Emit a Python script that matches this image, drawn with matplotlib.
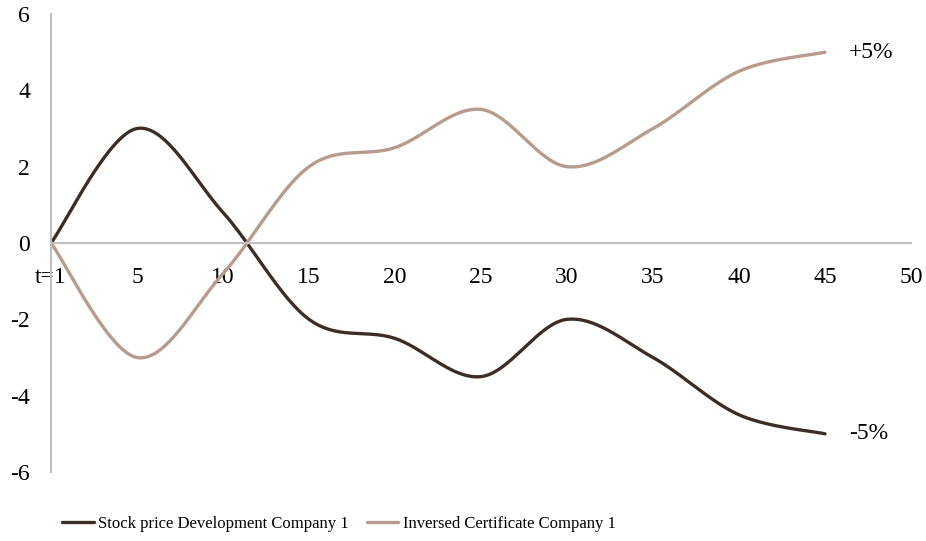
import numpy as np
import matplotlib
matplotlib.use("Agg")
import matplotlib.pyplot as plt

# Time points and percentage development of the two instruments
t = [0, 5, 10, 15, 20, 25, 30, 35, 40, 45]
stock = [0, 3, 0.8, -2, -2.5, -3.5, -2, -3, -4.5, -5]
certificate = [-v for v in stock]

x_ticks = [0, 5, 10, 15, 20, 25, 30, 35, 40, 45, 50]
x_labels = ["t=1", "5", "10", "15", "20", "25", "30", "35", "40", "45", "50"]
y_ticks = [-6, -4, -2, 0, 2, 4, 6]

dark = "#3d2e25"
light = "#b89b8c"


def smooth(xs, ys, n=40):
    # Catmull-Rom style curve through every point (like a spreadsheet "smoothed line")
    xs = np.asarray(xs, float)
    ys = np.asarray(ys, float)
    px = np.concatenate([[xs[0]], xs, [xs[-1]]])
    py = np.concatenate([[ys[0]], ys, [ys[-1]]])
    out_x, out_y = [], []
    s = np.linspace(0, 1, n)
    for i in range(1, len(px) - 2):
        p0 = np.array([px[i], py[i]])
        p3 = np.array([px[i + 1], py[i + 1]])
        p1 = p0 + (np.array([px[i + 1], py[i + 1]]) - np.array([px[i - 1], py[i - 1]])) / 6
        p2 = p3 - (np.array([px[i + 2], py[i + 2]]) - np.array([px[i], py[i]])) / 6
        pts = ((1 - s) ** 3)[:, None] * p0 + (3 * (1 - s) ** 2 * s)[:, None] * p1 \
            + (3 * (1 - s) * s ** 2)[:, None] * p2 + (s ** 3)[:, None] * p3
        out_x.extend(pts[:, 0])
        out_y.extend(pts[:, 1])
    return out_x, out_y


plt.rcParams["font.family"] = ["Liberation Serif"]
plt.rcParams["font.size"] = 17
plt.rcParams["axes.unicode_minus"] = False

fig = plt.figure(figsize=(9.26, 5.41), dpi=100)
ax = fig.add_axes([0.0551, 0.1275, 0.9287, 0.8466])

sx, sy = smooth(t, stock)
cx, cy = smooth(t, certificate)
ax.plot(sx, sy, color=dark, lw=2.4, solid_capstyle="round",
        label="Stock price Development Company 1")
ax.plot(cx, cy, color=light, lw=2.4, solid_capstyle="round",
        label="Inversed Certificate Company 1")

ax.text(46.4, certificate[-1], "+5%", va="center", ha="left")
ax.text(46.4, stock[-1], "-5%", va="center", ha="left")

ax.set_xlim(0, 50)
ax.set_ylim(-6, 6)
ax.set_xticks(x_ticks)
ax.set_xticklabels(x_labels)
ax.set_yticks(y_ticks)

for side in ["top", "right"]:
    ax.spines[side].set_visible(False)
ax.spines["bottom"].set_position(("data", 0))
ax.spines["left"].set_color("#bfbfbf")
ax.spines["bottom"].set_color("#bfbfbf")
ax.spines["left"].set_linewidth(1.5)
ax.spines["bottom"].set_linewidth(1.5)
ax.tick_params(axis="x", length=0, pad=17)
ax.tick_params(axis="y", length=0, pad=15)

fig.legend(loc="center left", bbox_to_anchor=(62 / 926, 1 - 524 / 541), ncol=2,
           frameon=False, fontsize=12, borderpad=0, borderaxespad=0,
           handlelength=1.9, handletextpad=0.25, columnspacing=1.1)

fig.savefig("out.png", dpi=100)
